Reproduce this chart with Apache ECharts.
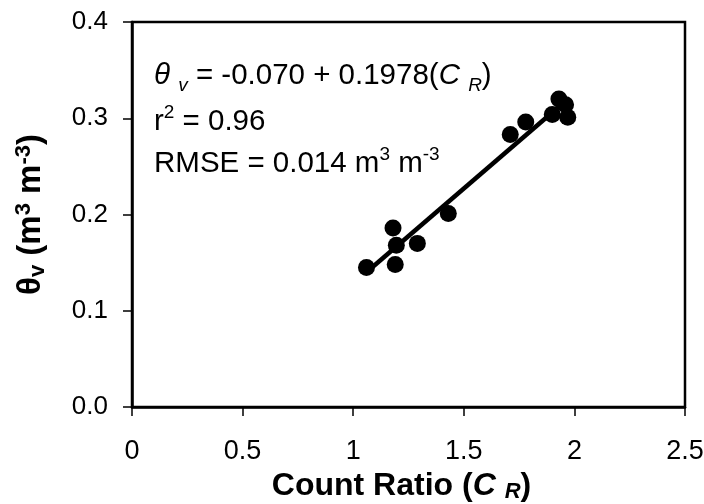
<!DOCTYPE html>
<html>
<head>
<meta charset="utf-8">
<script src="https://cdn.jsdelivr.net/npm/echarts@6/dist/echarts.min.js"></script>
<style>
  html, body { margin: 0; padding: 0; background: #fff; }
  #chart { width: 704px; height: 504px; }
</style>
</head>
<body>
<div id="chart"></div>
<script>
// measured points: count ratio vs volumetric water content
const countRatio = [1.06, 1.18, 1.195, 1.19, 1.29, 1.43, 1.71, 1.78, 1.90, 1.93, 1.96, 1.97];
const thetaV = [0.145, 0.186, 0.168, 0.148, 0.170, 0.201, 0.283, 0.296, 0.304, 0.320, 0.314, 0.301];

// fitted line end points
const fitX = [1.06, 1.96];
const fitY = [0.140, 0.318];

const xTicks = [0, 0.5, 1, 1.5, 2, 2.5];
const yTicks = [0.0, 0.1, 0.2, 0.3, 0.4];

const font = 'Liberation Sans, Arial, sans-serif';
const chart = echarts.init(document.getElementById('chart'));

const pts = countRatio.map((x, i) => [x, thetaV[i]]);
const fit = fitX.map((x, i) => [x, fitY[i]]);

const LH = 38;
const textRich = {
  n: { fontSize: 29.5, fontFamily: font, color: '#000', lineHeight: LH },
  i: { fontSize: 29.5, fontFamily: font, color: '#000', fontStyle: 'italic', lineHeight: LH },
  sub: { fontSize: 19, fontFamily: font, color: '#000', fontStyle: 'italic', verticalAlign: 'bottom', lineHeight: LH },
  sup: { fontSize: 19, fontFamily: font, color: '#000', verticalAlign: 'top', lineHeight: LH }
};

chart.setOption({
  animation: false,
  grid: {
    left: 132, top: 22, right: 19, bottom: 97,
    outerBoundsMode: 'none', containLabel: false,
    show: true, borderColor: '#000', borderWidth: 2.5, backgroundColor: 'transparent'
  },
  xAxis: {
    type: 'value', min: 0, max: 2.5, interval: 0.5,
    axisLine: { show: true, lineStyle: { color: '#000', width: 2.5 } },
    axisTick: { show: true, inside: false, length: 9, lineStyle: { color: '#000', width: 1.5 } },
    splitLine: { show: false },
    axisLabel: { color: '#000', fontSize: 27, fontFamily: font, margin: 31, formatter: v => xTicks.includes(v) ? String(v) : '' },
    name: '{b|Count Ratio (}{bi|C }{bs|R}{b|)}',
    nameLocation: 'middle', nameGap: 60,
    nameTextStyle: {
      padding: [0, 14, 0, 0],
      rich: {
        b: { fontSize: 32, fontWeight: 'bold', fontFamily: font, color: '#000', lineHeight: 34 },
        bi: { fontSize: 32, fontWeight: 'bold', fontStyle: 'italic', fontFamily: font, color: '#000', lineHeight: 34 },
        bs: { fontSize: 22, fontWeight: 'bold', fontStyle: 'italic', fontFamily: font, color: '#000', verticalAlign: 'bottom', lineHeight: 34 }
      }
    }
  },
  yAxis: {
    type: 'value', min: 0, max: 0.4, interval: 0.1,
    axisLine: { show: true, lineStyle: { color: '#000', width: 2.5 } },
    axisTick: { show: true, inside: false, length: 9, lineStyle: { color: '#000', width: 1.5 } },
    splitLine: { show: false },
    axisLabel: { color: '#000', fontSize: 26, fontFamily: font, margin: 24, formatter: v => v.toFixed(1) },
    name: '{b|θ}{bs|v}{b| (m}{bp|3}{b| m}{bp|-3}{b|)}',
    nameLocation: 'middle', nameGap: 83, nameRotate: 90,
    nameTextStyle: {
      rich: {
        b: { fontSize: 33, fontWeight: 'bold', fontFamily: font, color: '#000', lineHeight: 36 },
        bs: { fontSize: 22, fontWeight: 'bold', fontFamily: font, color: '#000', verticalAlign: 'bottom', lineHeight: 36 },
        bp: { fontSize: 22, fontWeight: 'bold', fontFamily: font, color: '#000', verticalAlign: 'top', lineHeight: 36 }
      }
    }
  },
  graphic: [
    {
      type: 'text', left: 154, top: 61,
      style: { text: '{i|θ }{sub|v}{n| = -0.070 + 0.1978(}{i|C }{sub|R}{n|)}', rich: textRich }
    },
    {
      type: 'text', left: 154, top: 103,
      style: { text: '{n|r}{sup|2}{n| = 0.96}', rich: textRich }
    },
    {
      type: 'text', left: 154, top: 145,
      style: { text: '{n|RMSE = 0.014 m}{sup|3}{n| m}{sup|-3}', rich: textRich }
    }
  ],
  series: [
    {
      type: 'line', data: fit, symbol: 'none',
      lineStyle: { color: '#000', width: 4.5 }, z: 2
    },
    {
      type: 'scatter', data: pts, symbol: 'circle', symbolSize: 17,
      itemStyle: { color: '#000', opacity: 1 }, z: 3
    }
  ]
});
</script>
</body>
</html>
